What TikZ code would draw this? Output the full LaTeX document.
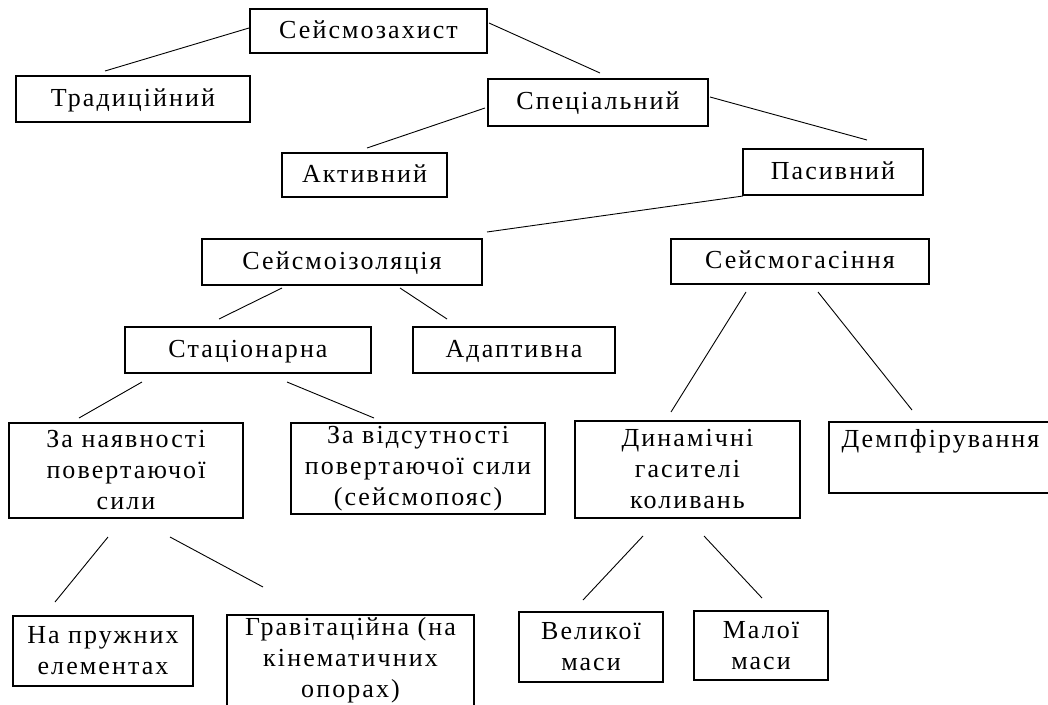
\documentclass[tikz,border=0pt]{standalone}
\usepackage{fontspec}
\setmainfont{Liberation Serif}[LetterSpace=8]
\begin{document}
\begin{tikzpicture}[x=1pt,y=-1pt,
  box/.style={draw, line width=1.5pt, inner sep=0pt, font=\fontsize{26}{31}\selectfont},
  one/.style={box, text height=18pt, text depth=4pt},
  multi/.style={box, align=center},
  conn/.style={line width=0.9pt}]
\useasboundingbox[fill=white] (0,0) rectangle (1048,704);

% boxes
\node[one, minimum width=237, minimum height=44] (zax) at (368.5,31) {Сейсмозахист};
\node[one, minimum width=234, minimum height=46] (trad) at (133,99) {Традиційний};
\node[one, minimum width=220, minimum height=47] (spec) at (598,102.5) {Спеціальний};
\node[one, minimum width=165, minimum height=44] (akt) at (364.5,175) {Активний};
\node[one, minimum width=180, minimum height=46] (pas) at (833,172) {Пасивний};
\node[one, minimum width=280, minimum height=46] (izo) at (342,262) {Сейсмоізоляція};
\node[one, minimum width=258, minimum height=45] (gas) at (800,261.5) {Сейсмогасіння};
\node[one, minimum width=246, minimum height=46] (stat) at (248,350) {Стаціонарна};
\node[one, minimum width=202, minimum height=46] (adapt) at (514,350) {Адаптивна};
\node[multi, minimum width=234, minimum height=95] (nayav) at (126,470.5) {За наявності\\повертаючої\\сили};
\node[multi, minimum width=254, minimum height=91] (vids) at (418,468.5) {За відсутності\\повертаючої сили\\(сейсмопояс)};
\node[multi, minimum width=225, minimum height=97] (din) at (687.5,469.5) {Динамічні\\гасителі\\коливань};
\node[box, text height=26pt, text depth=45pt, minimum width=223, anchor=north] (dempf) at (940.5,421) {Демпфірування};
\node[multi, minimum width=180, minimum height=70] (pruzh) at (103,651) {На пружних\\елементах};
\node[multi, minimum width=247, minimum height=91] (grav) at (350.5,660.5) {Гравітаційна (на\\кінематичних\\опорах)};
\node[multi, minimum width=144, minimum height=70] (vel) at (591,647) {Великої\\маси};
\node[multi, minimum width=134, minimum height=69] (mal) at (761,645.5) {Малої\\маси};

% connector end points
\coordinate (zax-trad-s) at (249,28);   \coordinate (zax-trad-e) at (105,71);
\coordinate (zax-spec-s) at (489,23);   \coordinate (zax-spec-e) at (600,73);
\coordinate (spec-akt-s) at (485,108);  \coordinate (spec-akt-e) at (367,148);
\coordinate (spec-pas-s) at (710,97);   \coordinate (spec-pas-e) at (867,140);
\coordinate (pas-izo-s) at (743,196);   \coordinate (pas-izo-e) at (487,232);
\coordinate (izo-stat-s) at (282,288);  \coordinate (izo-stat-e) at (219,319);
\coordinate (izo-adapt-s) at (400,288); \coordinate (izo-adapt-e) at (447,319);
\coordinate (gas-din-s) at (746,292);   \coordinate (gas-din-e) at (671,412);
\coordinate (gas-dempf-s) at (818,292); \coordinate (gas-dempf-e) at (912,410);
\coordinate (stat-nayav-s) at (142,382);\coordinate (stat-nayav-e) at (79,418);
\coordinate (stat-vids-s) at (287,382); \coordinate (stat-vids-e) at (374,418);
\coordinate (nayav-pruzh-s) at (108,537);\coordinate (nayav-pruzh-e) at (55,602);
\coordinate (nayav-grav-s) at (170,537); \coordinate (nayav-grav-e) at (263,587);
\coordinate (din-vel-s) at (643,536);   \coordinate (din-vel-e) at (583,600);
\coordinate (din-mal-s) at (704,536);   \coordinate (din-mal-e) at (762,598);

% connectors
\draw[conn] (zax-trad-s) -- (zax-trad-e);
\draw[conn] (zax-spec-s) -- (zax-spec-e);
\draw[conn] (spec-akt-s) -- (spec-akt-e);
\draw[conn] (spec-pas-s) -- (spec-pas-e);
\draw[conn] (pas-izo-s) -- (pas-izo-e);
\draw[conn] (izo-stat-s) -- (izo-stat-e);
\draw[conn] (izo-adapt-s) -- (izo-adapt-e);
\draw[conn] (gas-din-s) -- (gas-din-e);
\draw[conn] (gas-dempf-s) -- (gas-dempf-e);
\draw[conn] (stat-nayav-s) -- (stat-nayav-e);
\draw[conn] (stat-vids-s) -- (stat-vids-e);
\draw[conn] (nayav-pruzh-s) -- (nayav-pruzh-e);
\draw[conn] (nayav-grav-s) -- (nayav-grav-e);
\draw[conn] (din-vel-s) -- (din-vel-e);
\draw[conn] (din-mal-s) -- (din-mal-e);
\end{tikzpicture}
\end{document}
